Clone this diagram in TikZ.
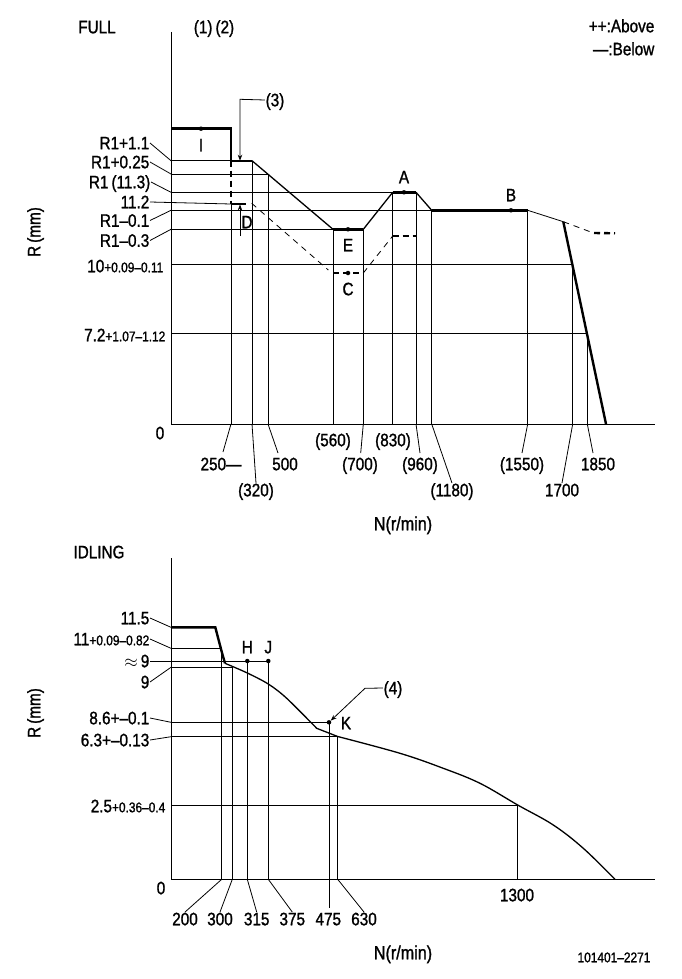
\documentclass[tikz,border=0pt]{standalone}
\usepackage{fontspec}
\setmainfont{Liberation Sans}[FakeStretch=0.85,FakeBold=1.2]
\usetikzlibrary{arrows.meta}
\newcommand\tolr[1]{{\fontsize{14}{14}\selectfont #1}}
\tikzset{
  thinline/.style={line width=0.8pt},
  flat/.style={line width=2.4pt},
  slope/.style={line width=1.3pt},
  txt/.style={font=\fontsize{18}{18}\selectfont, inner sep=0.5pt, text height=12.5pt, text depth=0pt},
  dot/.style={circle,fill=black,inner sep=0pt,minimum size=4.5pt},
  tip/.style={-{Stealth[length=6pt,width=4.5pt]}},
}
\begin{document}
\begin{tikzpicture}[x=1pt,y=-1pt]
\useasboundingbox (0,0) rectangle (681,979);

%%%%% FULL %%%%%
\node[txt] (full) at (97,27) {FULL};
\node[txt] (steps) at (214,27) {(1)\,(2)};
\node[txt,anchor=east] (above) at (655,26) {++:Above};
\node[txt,anchor=east] (below) at (655,49) {---:Below};
\node[txt,rotate=90] (rfull) at (34,232) {R\,(mm)};
\node[txt] (nfull) at (403,524) {\fontsize{19}{19}\selectfont N(r/min)};

\draw[thinline] (171,32) -- (171,424) -- (655,424);

% levels
\draw[thinline] (171,160.7) -- (231,160.7);
\draw[thinline] (171,174) -- (268,174);
\draw[thinline] (171,192.3) -- (392.7,192.3);
\draw[thinline] (171,210.3) -- (431.7,210.3);
\draw[thinline] (171,229.3) -- (333,229.3);
\draw[thinline] (171,264.3) -- (572.7,264.3);
\draw[thinline] (171,333.3) -- (587.3,333.3);

% speeds
\draw[thinline] (231,204) -- (231,424);
\draw[thinline] (252,160.7) -- (252,424);
\draw[thinline] (268,174) -- (268,424);
\draw[thinline] (333,229.3) -- (333,424);
\draw[thinline] (363.3,229.3) -- (363.3,424);
\draw[thinline] (392.7,192.3) -- (392.7,424);
\draw[thinline] (416,192.3) -- (416,424);
\draw[thinline] (431.7,210.3) -- (431.7,424);
\draw[thinline] (527.7,210.3) -- (527.7,424);
\draw[thinline] (572.7,264.3) -- (572.7,424);
\draw[thinline] (587.3,333.3) -- (587.3,424);

% R labels
\node[txt,anchor=east] (r1a) at (150,143) {R1+1.1};
\node[txt,anchor=east] (r1b) at (150,162) {R1+0.25};
\node[txt,anchor=east] (r1c) at (151,182) {R1\,(11.3)};
\node[txt,anchor=east] (r1d) at (150,202) {11.2};
\node[txt,anchor=east] (r1e) at (150,220.5) {R1--0.1};
\node[txt,anchor=east] (r1f) at (150,240.5) {R1--0.3};
\node[txt,anchor=east] (r1g) at (164,266) {10\tolr{+0.09--0.11}};
\node[txt,anchor=east] (r1h) at (166,335) {7.2\tolr{+1.07--1.12}};
\node[txt] (zfull) at (160,433) {0};

\draw[thinline] (r1a.east) -- (171,160.7);
\draw[thinline] (r1b.east) -- (171,174);
\draw[thinline] (r1c.east) -- (171,192.3);
\draw[thinline] (r1d.east) -- (231,204);
\draw[thinline] (r1e.east) -- (171,210.3);
\draw[thinline] (r1f.east) -- (171,229.3);

% N labels
\node[txt] (n250) at (221,464) {250---};
\node[txt] (n320) at (256,490) {(320)};
\node[txt] (n500) at (285,464) {500};
\node[txt] (n560) at (333,440) {(560)};
\node[txt] (n700) at (360,464) {(700)};
\node[txt] (n830) at (393,440) {(830)};
\node[txt] (n960) at (420,464) {(960)};
\node[txt] (n1180) at (452,490) {(1180)};
\node[txt] (n1550) at (522,464) {(1550)};
\node[txt] (n1700) at (562,490) {1700};
\node[txt] (n1850) at (598,464) {1850};

\draw[thinline] (231,424) -- (223,452);
\draw[thinline] (252,424) -- (n320.north);
\draw[thinline] (268,424) -- (278,453);
\draw[thinline] (363.3,424) -- (360.7,453);
\draw[thinline] (416,424) -- (420,453);
\draw[thinline] (431.7,424) -- (n1180.north);
\draw[thinline] (527.7,424) -- (522,453);
\draw[thinline] (572.7,424) -- (n1700.north);
\draw[thinline] (587.3,424) -- (593,453);

% full load curve
\draw[flat] (171,128.7) -- (231,128.7) -- (231,160.7) -- (252,160.7);
\draw[slope] (252,160.7) -- (333,229.3);
\draw[flat] (333,229.3) -- (363.3,229.3);
\draw[slope] (363.3,229.3) -- (392.7,192.3);
\draw[flat] (392.7,192.3) -- (416,192.3);
\draw[slope] (416,192.3) -- (431.7,210.3);
\draw[flat] (431.7,210.3) -- (527.7,210.3);
\draw[thinline] (527.7,210.3) -- (563.3,221.7);
\draw[flat] (563.3,221.7) -- (606,424);

% lower limit
\draw[flat,dash pattern=on 6pt off 4pt] (231,160.7) -- (231,204);
\draw[flat] (231,204) -- (246,204);
\draw[thinline,dash pattern=on 6pt off 5pt] (251.7,203.3) -- (328.3,270);
\draw[flat,dash pattern=on 6pt off 4pt] (333,273) -- (363.3,273);
\draw[thinline,dash pattern=on 6pt off 5pt] (363.3,273) -- (392.7,236);
\draw[flat,dash pattern=on 6pt off 4pt] (392.7,236) -- (416,236);
\draw[thinline,dash pattern=on 6pt off 5pt] (563.3,221.7) -- (590,231.7);
\draw[flat,dash pattern=on 6pt off 4pt] (594,233) -- (615,233.3);

% points
\node[dot] (pI) at (201,128.7) {};
\node[dot] (pE) at (348,229.3) {};
\node[dot] (pC) at (348,273) {};
\node[dot] (pA) at (404,192.3) {};
\node[dot] (pB) at (511,210.3) {};
\node[txt] (tI) at (201,145) {I};
\node[txt] (tE) at (348,245) {E};
\node[txt] (tC) at (348,289) {C};
\node[txt] (tA) at (404,177) {A};
\node[txt] (tB) at (511,195) {B};
\node[txt] (tD) at (247,222) {D};

% (3)
\node[txt] (n3) at (275,100) {(3)};
\coordinate (c3) at (240,99.3);
\coordinate (a3) at (240,160.7);
\draw[thinline,tip] (n3.west) -- (c3) -- (a3);
\coordinate (dlow) at (240,236);
\draw[thinline,tip] (dlow) -- (240,204.5);

%%%%% IDLING %%%%%
\node[txt] (idl) at (99,552) {IDLING};
\node[txt,rotate=90] (ridl) at (34,713) {R\,(mm)};
\node[txt] (nidl) at (403,953) {\fontsize{19}{19}\selectfont N(r/min)};
\node[txt] (partno) at (614,956) {\fontsize{14}{14}\selectfont 101401--2271};

\draw[thinline] (171,558.3) -- (171,879.3) -- (655,879.3);

% levels
\draw[thinline] (171,648.3) -- (221.7,648.3);
\draw[thinline] (171,667.3) -- (232.3,667.3);
\draw[thinline] (171,722.3) -- (329,722.3);
\draw[thinline] (171,736.7) -- (337.7,736.7);
\draw[thinline] (171,805.3) -- (517.7,805.3);

% speeds
\draw[thinline] (221.7,648.3) -- (221.7,879.3);
\draw[thinline] (232.3,667.3) -- (232.3,879.3);
\draw[thinline] (247.3,661) -- (247.3,879.3);
\draw[thinline] (268.3,661) -- (268.3,879.3);
\draw[thinline] (329,722.3) -- (329,908);
\draw[thinline] (337.7,736.7) -- (337.7,879.3);
\draw[thinline] (517.7,805.3) -- (517.7,879.3);

% R labels
\node[txt,anchor=east] (i1) at (150,618) {11.5};
\node[txt,anchor=east] (i2) at (150,639) {11\tolr{+0.09--0.82}};
\node[txt,anchor=east] (i3) at (150,661) {$\approx$\,9};
\node[txt,anchor=east] (i4) at (150,682) {9};
\node[txt,anchor=east] (i5) at (150,718) {8.6+--0.1};
\node[txt,anchor=east] (i6) at (150,740) {6.3+--0.13};
\node[txt,anchor=east] (i7) at (166,806) {2.5\tolr{+0.36--0.4}};
\node[txt] (zidl) at (161,888) {0};

\draw[thinline] (i1.east) -- (171,627.3);
\draw[thinline] (i2.east) -- (171,648.3);
\draw[thinline] (i3.east) -- (268.3,661);
\draw[thinline] (i4.east) -- (171,667.3);
\draw[thinline] (i5.east) -- (171,722.3);
\draw[thinline] (i6.east) -- (171,736.7);

% N labels
\node[txt] (m200) at (185,919) {200};
\node[txt] (m300) at (220,919) {300};
\node[txt] (m315) at (256.7,919) {315};
\node[txt] (m375) at (292.3,919) {375};
\node[txt] (m475) at (328.3,919) {475};
\node[txt] (m630) at (364,919) {630};
\node[txt] (m1300) at (517,895) {1300};

\draw[thinline] (221.7,879.3) -- (m200.north);
\draw[thinline] (232.3,879.3) -- (m300.north);
\draw[thinline] (247.3,879.3) -- (m315.north);
\draw[thinline] (268.3,879.3) -- (m375.north);
\draw[thinline] (337.7,879.3) -- (m630.north);

% idling curve
\draw[flat] (171,627.3) -- (215.3,627.3) -- (221.7,651.7) -- (225,663.3);
\draw[slope] plot[smooth,tension=0.5] coordinates {(225,663.3) (246.7,672.7)
  (268.3,684) (286.7,698.3) (316.7,728.3)}
  -- (337.7,736.5)
  plot[smooth,tension=0.6] coordinates {(337.7,736.5) (400,753.3) (443.3,768.3)
  (480,783.3) (517.7,805) (553.3,825) (583.3,848.3) (615,879.3)};

% points
\node[dot] (pH) at (247.3,661) {};
\node[dot] (pJ) at (268.3,661) {};
\node[dot] (pK) at (329,722.3) {};
\node[txt] (tH) at (247.3,647) {H};
\node[txt] (tJ) at (268.3,647) {J};
\node[txt] (tK) at (346,723) {K};

% (4)
\node[txt] (n4) at (393,688) {(4)};
\coordinate (c4) at (365,688.3);
\draw[thinline,tip] (n4.west) -- (c4) -- (pK);

\end{tikzpicture}
\end{document}
